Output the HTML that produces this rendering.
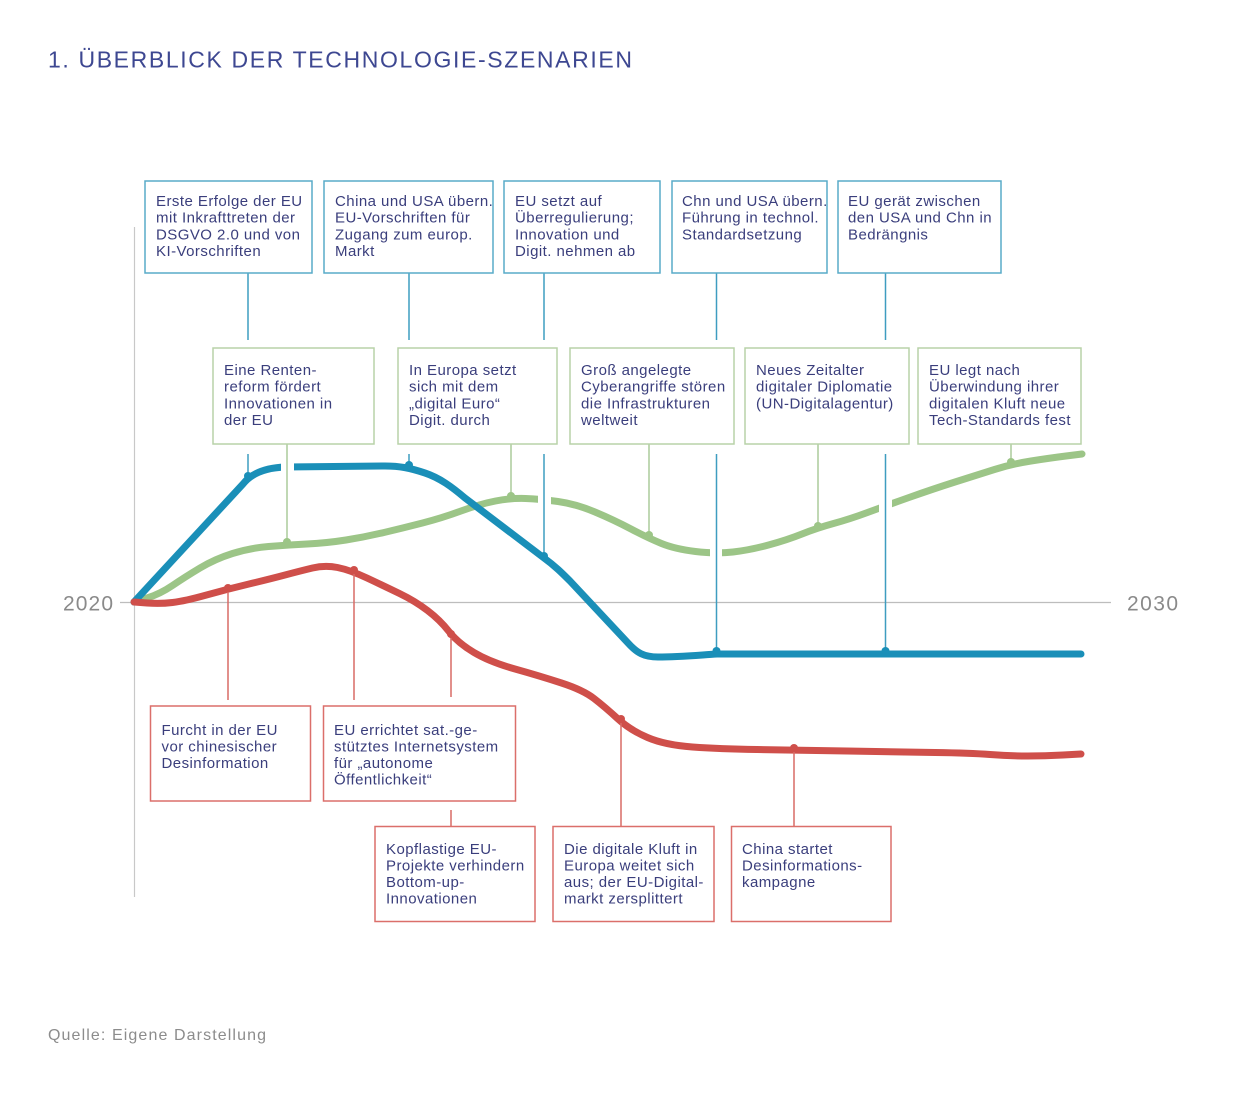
<!DOCTYPE html>
<html><head><meta charset="utf-8"><style>html,body{margin:0;padding:0;background:#fff}svg{display:block}
.t{font-family:"Liberation Sans",sans-serif;font-size:15px;letter-spacing:0.45px;fill:#3a3e7c}
</style></head><body>
<svg width="1242" height="1094" viewBox="0 0 1242 1094" xmlns="http://www.w3.org/2000/svg">
<rect width="1242" height="1094" fill="#fff"/>
<text x="48" y="67.5" font-family="Liberation Sans, sans-serif" font-size="23" fill="#3d4791" textLength="584" lengthAdjust="spacing">1. ÜBERBLICK DER TECHNOLOGIE-SZENARIEN</text>

<!-- axes -->
<line x1="134.5" y1="227" x2="134.5" y2="897" stroke="#c8c8c8" stroke-width="1.2"/>
<line x1="120" y1="602.5" x2="1111" y2="602.5" stroke="#bdbdbd" stroke-width="1.2"/>
<text x="63" y="610.5" font-family="Liberation Sans, sans-serif" font-size="21" fill="#8a8a8a" textLength="50" lengthAdjust="spacing">2020</text>
<text x="1127" y="610.5" font-family="Liberation Sans, sans-serif" font-size="21" fill="#8a8a8a" textLength="51" lengthAdjust="spacing">2030</text>

<!-- green line -->
<path d="M134,602 L147,598 Q160,594 172.5,585.5 Q185,577 200,568 Q215,559 232.5,553.5 Q250,548 268.5,546.5 Q287,545 307,544 Q327,543 346,540 Q365,537 384,532.5 Q403,528 422.5,523 Q442,518 461,511 Q480,504 495.5,501 Q511,498 525.5,498.5 Q540,499 558,501.5 Q576,504 595,512 Q614,520 631,529 Q648,538 661.5,543.5 Q675,549 695.5,551.5 Q716,554 733,552 Q750,550 768.5,545 Q787,540 802,534 Q817,528 833.5,523.5 Q850,519 867.5,512.5 Q885,506 909,497.5 Q933,489 955,482 Q977,475 994.5,469.5 Q1012,464 1031,461 Q1050,458 1066,456 L1082,454" fill="none" stroke="#9cc587" stroke-width="7" stroke-linecap="round" stroke-linejoin="round"/>

<!-- blue line -->
<path d="M134,602 L243,484 C250,475 262,468 285,467 L385,466 C400,466 410,468 425,473 C440,478 452,487 465,498 L544,558 C555,566 562,573 570,581 L628,643 C637,653 644,657 658,657 C680,657 700,655 717,654 L1081,654" fill="none" stroke="#1a8fb8" stroke-width="7" stroke-linecap="round" stroke-linejoin="round"/>

<!-- red line -->
<path d="M134,602 L147,603 Q160,604 172.5,602.5 Q185,601 206.5,595 Q228,589 249,584 Q270,579 285,575 Q300,571 312.5,568 Q325,565 337.5,567.5 Q350,570 367,578 Q384,586 399.5,593.5 Q415,601 427.5,610.5 Q440,620 449,631.5 Q458,643 474,652.5 Q490,662 515,669 Q540,676 561.5,683 Q583,690 594,698.5 Q605,707 617.5,718.5 Q630,730 647.5,737.5 Q665,745 692.5,747 Q720,749 757,749.5 Q794,750 847,751 Q900,752 935,752.5 Q970,753 990,754.5 Q1010,756 1027.5,756 Q1045,756 1063,755 L1081,754" fill="none" stroke="#cf4f4a" stroke-width="7" stroke-linecap="round" stroke-linejoin="round"/>

<!-- gaps -->
<rect x="281" y="458" width="13" height="18" fill="#fff"/>
<rect x="538" y="489" width="13" height="19" fill="#fff"/>
<rect x="710" y="545" width="12" height="18" fill="#fff"/>
<rect x="879" y="497" width="13" height="20" fill="#fff"/>

<!-- blue connectors -->
<g stroke="#3e9dc0" stroke-width="1.5">
<line x1="248" y1="273" x2="248" y2="340"/><line x1="248" y1="454" x2="248" y2="478"/>
<line x1="409" y1="273" x2="409" y2="340"/><line x1="409" y1="454" x2="409" y2="467"/>
<line x1="544" y1="273" x2="544" y2="340"/><line x1="544" y1="454" x2="544" y2="558"/>
<line x1="716.5" y1="273" x2="716.5" y2="340"/><line x1="716.5" y1="454" x2="716.5" y2="653"/>
<line x1="885.5" y1="273" x2="885.5" y2="340"/><line x1="885.5" y1="454" x2="885.5" y2="653"/>
</g>
<!-- green connectors -->
<g stroke="#aacb9a" stroke-width="1.5">
<line x1="287" y1="444" x2="287" y2="544"/>
<line x1="511" y1="444" x2="511" y2="498"/>
<line x1="649" y1="444" x2="649" y2="537"/>
<line x1="818" y1="444" x2="818" y2="528"/>
<line x1="1011" y1="444" x2="1011" y2="464"/>
</g>
<!-- red connectors -->
<g stroke="#d96a65" stroke-width="1.5">
<line x1="228" y1="590" x2="228" y2="700"/>
<line x1="354" y1="572" x2="354" y2="700"/>
<line x1="451" y1="634" x2="451" y2="697"/><line x1="451" y1="810" x2="451" y2="826"/>
<line x1="621" y1="721" x2="621" y2="826"/>
<line x1="794" y1="750" x2="794" y2="826"/>
</g>

<!-- dots -->
<g fill="#1a8fb8">
<circle cx="248" cy="476" r="4"/><circle cx="409" cy="465" r="4"/><circle cx="544" cy="556" r="4"/><circle cx="716.5" cy="651" r="4"/><circle cx="885.5" cy="651" r="4"/>
</g>
<g fill="#9cc587">
<circle cx="287" cy="542" r="4"/><circle cx="511" cy="496" r="4"/><circle cx="649" cy="535" r="4"/><circle cx="818" cy="526" r="4"/><circle cx="1011" cy="462" r="4"/>
</g>
<g fill="#cf4f4a">
<circle cx="228" cy="588" r="4"/><circle cx="354" cy="570" r="4"/><circle cx="451" cy="634" r="4"/><circle cx="621" cy="719" r="4"/><circle cx="794" cy="748" r="4"/>
</g>

<!-- top blue boxes -->
<g fill="#fff" stroke="#58abc9" stroke-width="1.5">
<rect x="145" y="181" width="167" height="92"/>
<rect x="324" y="181" width="169" height="92"/>
<rect x="504" y="181" width="156" height="92"/>
<rect x="672" y="181" width="155" height="92"/>
<rect x="838" y="181" width="163" height="92"/>
</g>
<g>
<text class="t" x="156" y="206">Erste Erfolge der EU</text>
<text class="t" x="156" y="222.7">mit Inkrafttreten der</text>
<text class="t" x="156" y="239.4">DSGVO 2.0 und von</text>
<text class="t" x="156" y="256.1">KI-Vorschriften</text>
<text class="t" x="335" y="206">China und USA übern.</text>
<text class="t" x="335" y="222.7">EU-Vorschriften für</text>
<text class="t" x="335" y="239.4">Zugang zum europ.</text>
<text class="t" x="335" y="256.1">Markt</text>
<text class="t" x="515" y="206">EU setzt auf</text>
<text class="t" x="515" y="222.7">Überregulierung;</text>
<text class="t" x="515" y="239.4">Innovation und</text>
<text class="t" x="515" y="256.1">Digit. nehmen ab</text>
<text class="t" x="682" y="206">Chn und USA übern.</text>
<text class="t" x="682" y="222.7">Führung in  technol.</text>
<text class="t" x="682" y="239.4">Standardsetzung</text>
<text class="t" x="848" y="206">EU gerät zwischen</text>
<text class="t" x="848" y="222.7">den USA und Chn in</text>
<text class="t" x="848" y="239.4">Bedrängnis</text>
</g>

<!-- green boxes -->
<g fill="#fff" stroke="#b8d2a8" stroke-width="1.5">
<rect x="213" y="348" width="161" height="96"/>
<rect x="398" y="348" width="159" height="96"/>
<rect x="570" y="348" width="164" height="96"/>
<rect x="745" y="348" width="164" height="96"/>
<rect x="918" y="348" width="163" height="96"/>
</g>
<g>
<text class="t" x="224" y="375">Eine Renten-</text>
<text class="t" x="224" y="391.7">reform fördert</text>
<text class="t" x="224" y="408.4">Innovationen in</text>
<text class="t" x="224" y="425.1">der EU</text>
<text class="t" x="409" y="375">In Europa setzt</text>
<text class="t" x="409" y="391.7">sich mit dem</text>
<text class="t" x="409" y="408.4">„digital Euro“</text>
<text class="t" x="409" y="425.1">Digit. durch</text>
<text class="t" x="581" y="375">Groß angelegte</text>
<text class="t" x="581" y="391.7">Cyberangriffe stören</text>
<text class="t" x="581" y="408.4">die Infrastrukturen</text>
<text class="t" x="581" y="425.1">weltweit</text>
<text class="t" x="756" y="375">Neues Zeitalter</text>
<text class="t" x="756" y="391.7">digitaler Diplomatie</text>
<text class="t" x="756" y="408.4">(UN-Digitalagentur)</text>
<text class="t" x="929" y="375">EU legt nach</text>
<text class="t" x="929" y="391.7">Überwindung ihrer</text>
<text class="t" x="929" y="408.4">digitalen Kluft neue</text>
<text class="t" x="929" y="425.1">Tech-Standards fest</text>
</g>

<!-- red boxes -->
<g fill="#fff" stroke="#db6f6a" stroke-width="1.5">
<rect x="150.5" y="706" width="160" height="95"/>
<rect x="323.5" y="706" width="192" height="95"/>
<rect x="375" y="826.5" width="160" height="95"/>
<rect x="553" y="826.5" width="161" height="95"/>
<rect x="731.5" y="826.5" width="159.5" height="95"/>
</g>
<g>
<text class="t" x="161.5" y="735">Furcht in der EU</text>
<text class="t" x="161.5" y="751.5">vor chinesischer</text>
<text class="t" x="161.5" y="768">Desinformation</text>
<text class="t" x="334" y="735">EU errichtet sat.-ge-</text>
<text class="t" x="334" y="751.5">stütztes Internetsystem</text>
<text class="t" x="334" y="768">für „autonome</text>
<text class="t" x="334" y="784.5">Öffentlichkeit“</text>
<text class="t" x="386" y="854">Kopflastige EU-</text>
<text class="t" x="386" y="870.5">Projekte verhindern</text>
<text class="t" x="386" y="887">Bottom-up-</text>
<text class="t" x="386" y="903.5">Innovationen</text>
<text class="t" x="564" y="854">Die digitale Kluft in</text>
<text class="t" x="564" y="870.5">Europa weitet sich</text>
<text class="t" x="564" y="887">aus; der EU-Digital-</text>
<text class="t" x="564" y="903.5">markt zersplittert</text>
<text class="t" x="742" y="854">China startet</text>
<text class="t" x="742" y="870.5">Desinformations-</text>
<text class="t" x="742" y="887">kampagne</text>
</g>

<text x="48" y="1040" font-family="Liberation Sans, sans-serif" font-size="16" fill="#8c8c8c" textLength="218" lengthAdjust="spacing">Quelle: Eigene Darstellung</text>
</svg>
</body></html>
